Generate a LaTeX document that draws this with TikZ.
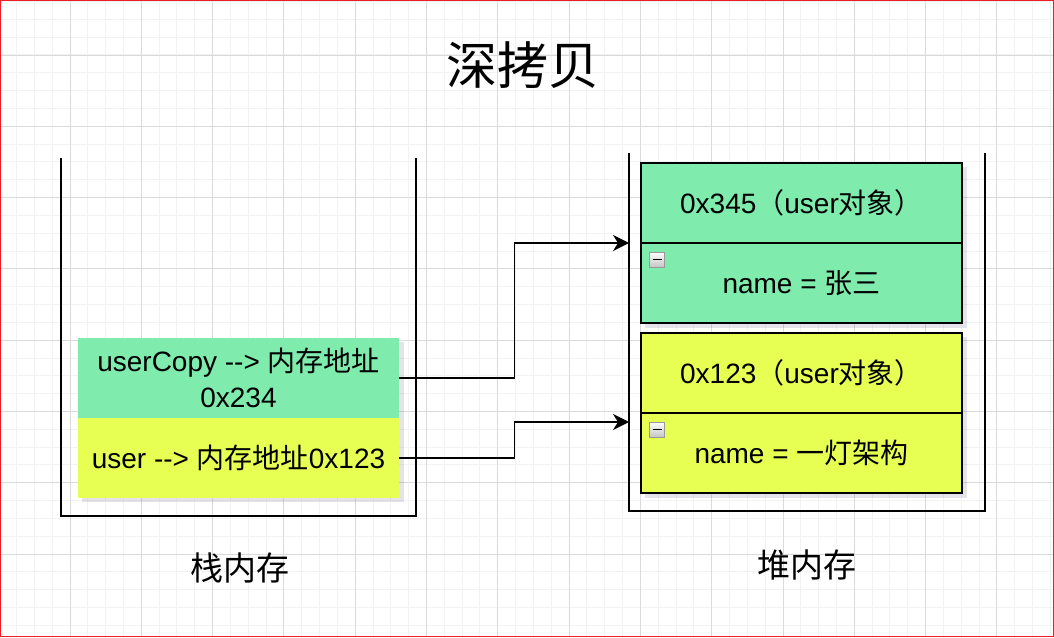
\documentclass[tikz,border=0pt]{standalone}
\usepackage{fontspec}
\setmainfont{Liberation Sans}
\newfontfamily\cjk{Noto Sans CJK SC}
\usetikzlibrary{arrows.meta,calc}
\definecolor{gfill}{RGB}{127,235,173}
\definecolor{yfill}{RGB}{230,255,82}
\definecolor{gridminor}{RGB}{242,242,242}
\definecolor{gridmajor}{RGB}{218,218,218}
\definecolor{frame}{RGB}{235,30,38}
\definecolor{shade}{RGB}{40,40,90}
\newcommand{\arr}{-\kern0pt-\kern0pt>}
\begin{document}
\begin{tikzpicture}[x=1pt,y=-1pt,
  minorline/.style={draw=gridminor,line width=1pt},
  majorline/.style={draw=gridmajor,line width=0.9pt},
  cont/.style={draw=black,line width=1.4pt},
  sbox/.style={rectangle,minimum width=321pt,minimum height=80pt,inner sep=0pt,align=center,font=\fontsize{28}{36}\selectfont},
  hbox/.style={rectangle,draw=black,line width=1.3pt,minimum width=321pt,minimum height=80pt,inner sep=0pt,align=center,font=\fontsize{28}{36}\selectfont},
  shadowbox/.style={fill=shade,opacity=0.12},
  conn/.style={draw=black,line width=1.4pt,-{Stealth[length=16pt,width=16pt,inset=5pt]}},
  minus/.style={rectangle,draw=gray!80,line width=0.8pt,top color=white,bottom color=gray!45,minimum width=15pt,minimum height=15pt,inner sep=0pt},
  lbl/.style={font=\cjk\fontsize{33}{38}\selectfont}
]
\useasboundingbox (0,0) rectangle (1054,637);
\fill[white] (0,0) rectangle (1054,637);
% grid
\foreach \i in {0,...,59} \draw[minorline] ({-1.3+17.825*\i},0) -- ({-1.3+17.825*\i},637);
\foreach \i in {0,...,35} \draw[minorline] (0,{1.5+17.825*\i}) -- (1054,{1.5+17.825*\i});
\foreach \i in {0,...,14} \draw[majorline] ({-1.3+71.3*\i},0) -- ({-1.3+71.3*\i},637);
\foreach \i in {0,...,8} \draw[majorline] (0,{-16.3+71.3*\i}) -- (1054,{-16.3+71.3*\i});
% frame
\draw[frame,line width=1.2pt] (0.6,0.6) rectangle (1053.4,636.4);
% title
\node[font=\cjk\fontsize{51}{56}\selectfont] (title) at (522.5,65) {深拷贝};
% stack container
\draw[cont] (61,158) -- (61,516) -- (416,516) -- (416,158);
% heap container
\draw[cont] (629,153) -- (629,511) -- (985,511) -- (985,153);
% shadows
\fill[shadowbox] (82,342) rectangle (404,502);
\fill[shadowbox] (645,167) rectangle (967,328);
\fill[shadowbox] (645,337) rectangle (967,498);
% stack boxes
\node[sbox,fill=gfill] (ucopy) at (238.5,378) {userCopy \arr{} {\cjk 内存地址}\\0x234};
\node[sbox,fill=yfill] (user) at (238.5,458) {user \arr{} {\cjk 内存地址}0x123};
% heap objects
\node[hbox,fill=gfill] (o1h) at (801.5,203) {0x345{\cjk （}user{\cjk 对象）}};
\node[hbox,fill=gfill] (o1b) at (801.5,283) {\raisebox{-2pt}{name = {\cjk 张三}}};
\node[hbox,fill=yfill] (o2h) at (801.5,373) {0x123{\cjk （}user{\cjk 对象）}};
\node[hbox,fill=yfill] (o2b) at (801.5,453) {\raisebox{-2pt}{name = {\cjk 一灯架构}}};
% minus icons
\node[minus] (m1) at (657,259.5) {};
\draw[black,line width=1.2pt] ($(m1.center)+(-4.5,0)$) -- ($(m1.center)+(4.5,0)$);
\node[minus] (m2) at (657,429.5) {};
\draw[black,line width=1.2pt] ($(m2.center)+(-4.5,0)$) -- ($(m2.center)+(4.5,0)$);
% connectors
\coordinate (t1) at (629,243);
\coordinate (t2) at (629,422);
\draw[conn] (ucopy.east) -- ++(115,0) |- (t1);
\draw[conn] (user.east) -- ++(115,0) |- (t2);
% labels
\node[lbl] (stk) at (240,568) {栈内存};
\node[lbl] (heap) at (807,565) {堆内存};
\end{tikzpicture}
\end{document}
